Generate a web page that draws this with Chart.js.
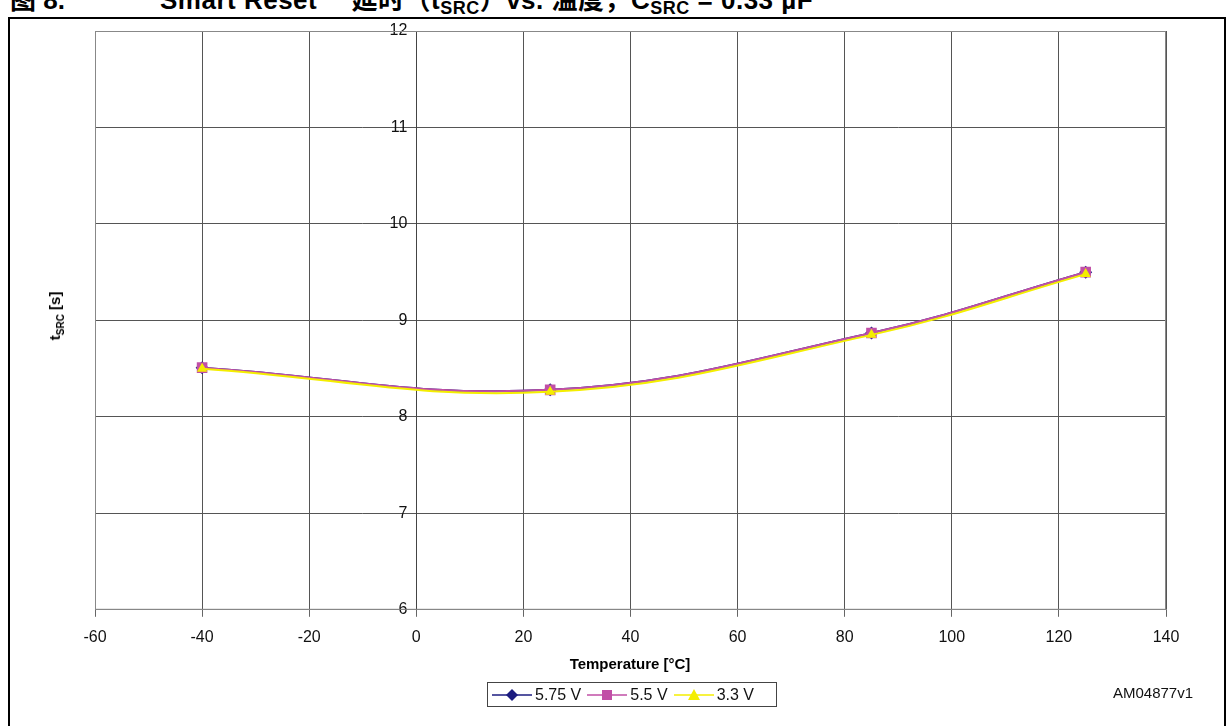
<!DOCTYPE html>
<html>
<head>
<meta charset="utf-8">
<script src="https://cdn.jsdelivr.net/npm/chart.js@4"></script>
<style>
  body { margin: 0; background: #fff; font-family: "Liberation Sans", Arial, sans-serif; }
  #wrap { position: relative; width: 1226px; height: 726px; overflow: hidden; }
  #frame { position: absolute; left: 8px; top: 17px; width: 1214px; height: 720px;
           border-left: 2px solid #000; border-top: 2px solid #000; border-right: 2px solid #000; }
  #title { position: absolute; left: 10px; top: -13px; font: bold 26px/26px "Liberation Sans", "Noto Sans CJK SC", sans-serif; white-space: nowrap; }
  #title span.part { position: absolute; top: 0; }
  #title .sub { font-size: 18px; position: relative; top: 5px; }
  canvas { position: absolute; left: 0; top: 0; }
  #ytitle { position: absolute; left: 56px; top: 316px; transform: translate(-50%, -50%) rotate(-90deg);
            font: bold 15px "Liberation Sans", Arial, sans-serif; white-space: nowrap; }
  #ytitle sub { font-size: 10px; }
  #xtitle { position: absolute; left: 630px; top: 663px; transform: translate(-50%, -50%);
            font: bold 15px "Liberation Sans", Arial, sans-serif; }
  #legend { position: absolute; left: 487px; top: 682px; width: 288px; height: 23px; border: 1px solid #444;
            display: flex; align-items: center; font-size: 16px; color: #111; }
  #legend .item { display: flex; align-items: center; margin-left: 4px; margin-right: 2px; }
  #legend svg { margin-right: 3px; }
  #code { position: absolute; left: 1113px; top: 684px; font-size: 15px; color: #111; }
</style>
</head>
<body>
<div id="wrap">
  <div id="title">
    <span class="part" style="left:0">图 8.</span>
    <span class="part" style="left:150px; letter-spacing:0.5px">Smart Reset™ 延时（t<span class="sub">SRC</span>）vs. 温度，C<span class="sub">SRC</span> = 0.33 µF</span>
  </div>
  <div id="frame"></div>
  <canvas id="chart" width="1226" height="726"></canvas>
  <div id="ytitle">t<sub>SRC</sub> [s]</div>
  <div id="xtitle">Temperature [°C]</div>
  <div id="legend"></div>
  <div id="code">AM04877v1</div>
</div>
<script>
// data
const temps = [-40, 25, 85, 125];
const v575 = [8.51, 8.28, 8.87, 9.50];
const v55 = [8.51, 8.28, 8.87, 9.50];
const v33 = [8.50, 8.26, 8.85, 9.48];

const seriesNames = ['5.75 V', '5.5 V', '3.3 V'];
const seriesColors = ['#1c1c80', '#c14fa6', '#f4ee00'];
const seriesMarkers = ['rectRot', 'rect', 'triangle'];
const markerSizes = [6.5, 7.5, 6];

function pts(vals) {
  return temps.map((t, i) => ({ x: t, y: vals[i] }));
}

const allSeries = [v575, v55, v33];
const datasets = allSeries.map((vals, i) => ({
  label: seriesNames[i],
  data: pts(vals),
  borderColor: seriesColors[i],
  backgroundColor: seriesColors[i],
  borderWidth: 2,
  pointStyle: seriesMarkers[i],
  pointRadius: markerSizes[i],
  pointBorderWidth: 0,
  tension: 0.4,
  order: 3 - i
}));

new Chart(document.getElementById('chart'), {
  type: 'line',
  data: { datasets: datasets },
  options: {
    responsive: false,
    animation: false,
    layout: { padding: { left: 95, right: 60, top: 31, bottom: 68 } },
    plugins: { legend: { display: false }, tooltip: { enabled: false } },
    scales: {
      x: {
        type: 'linear',
        min: -60, max: 140,
        ticks: { stepSize: 20, color: '#111', font: { size: 16, family: 'Liberation Sans' }, padding: 11 },
        grid: { color: '#555', lineWidth: 1, tickLength: 7, tickColor: '#666' },
        border: { color: '#888', width: 1 }
      },
      y: {
        type: 'linear',
        position: { x: 0 },
        min: 6, max: 12,
        ticks: {
          stepSize: 1, color: '#111', font: { size: 16, family: 'Liberation Sans' },
          // labels sit right-aligned on the x=0 axis, push them a little left
          callback: v => v + '  '
        },
        grid: { color: '#555', lineWidth: 1, drawTicks: false },
        border: { color: '#444', width: 1 }
      }
    }
  },
  plugins: [{
    id: 'plotFrame',
    afterDraw(chart) {
      const a = chart.chartArea, c = chart.ctx;
      c.save();
      c.strokeStyle = '#888';
      c.lineWidth = 1;
      c.strokeRect(a.left + 0.5, a.top + 0.5, a.width - 1, a.height - 1);
      c.restore();
    }
  }]
});

// legend with line + marker samples
const legend = document.getElementById('legend');
seriesNames.forEach((name, i) => {
  const item = document.createElement('div');
  item.className = 'item';
  let marker;
  if (i == 0) marker = '<polygon points="20,1 26,7 20,13 14,7" fill="' + seriesColors[i] + '"/>';
  else if (i == 1) marker = '<rect x="15" y="2" width="10" height="10" fill="' + seriesColors[i] + '"/>';
  else marker = '<polygon points="20,1 26,12 14,12" fill="' + seriesColors[i] + '"/>';
  item.innerHTML = '<svg width="40" height="14"><line x1="0" y1="7" x2="40" y2="7" stroke="' + seriesColors[i] + '" stroke-width="1.5"/>' + marker + '</svg><span>' + name + '</span>';
  legend.appendChild(item);
});
</script>
</body>
</html>
